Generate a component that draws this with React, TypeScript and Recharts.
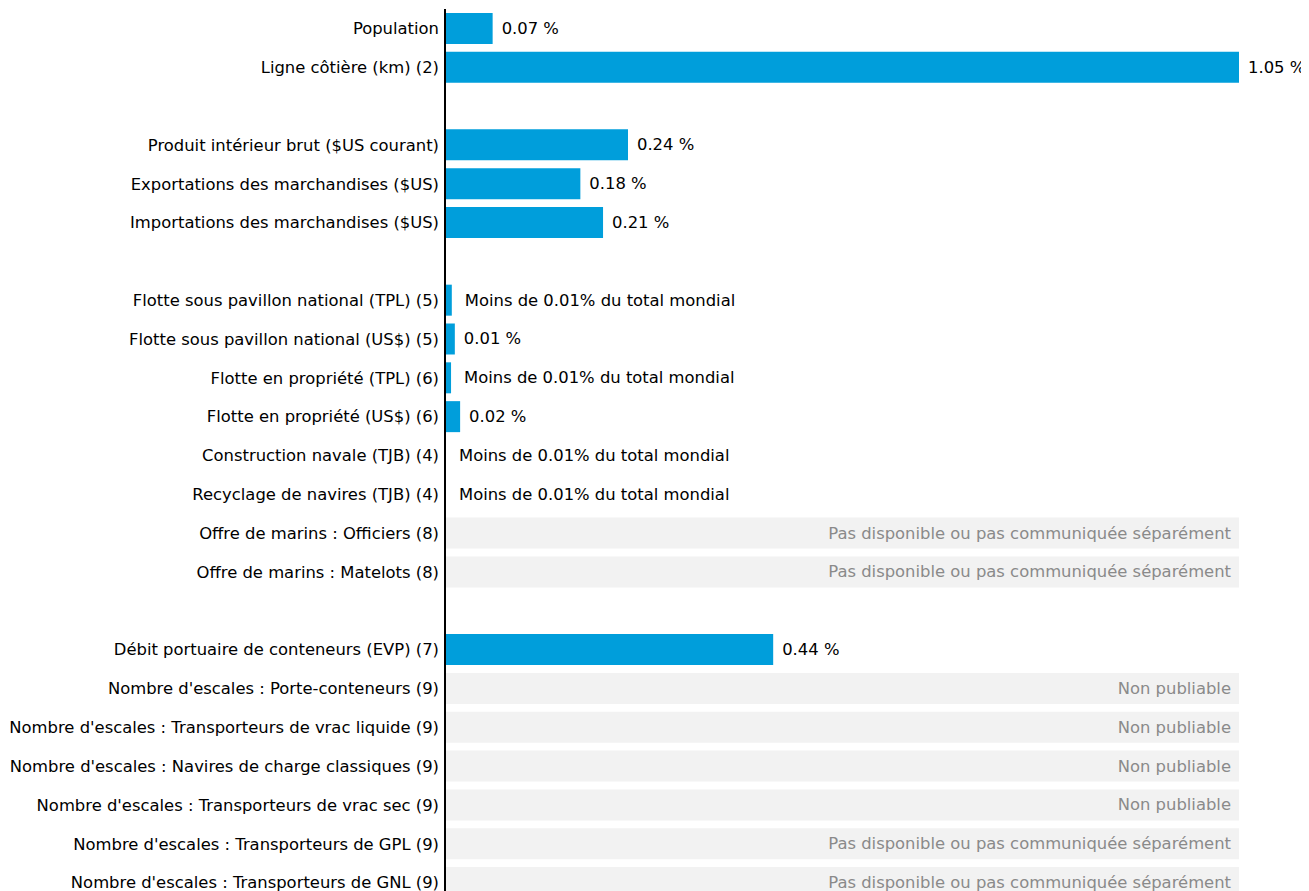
import React from "react";
import { BarChart, Bar, XAxis, YAxis, LabelList } from "recharts";

const categories = [
  "Population",
  "Ligne côtière (km) (2)",
  "",
  "Produit intérieur brut ($US courant)",
  "Exportations des marchandises ($US)",
  "Importations des marchandises ($US)",
  "",
  "Flotte sous pavillon national (TPL) (5)",
  "Flotte sous pavillon national (US$) (5)",
  "Flotte en propriété (TPL) (6)",
  "Flotte en propriété (US$) (6)",
  "Construction navale (TJB) (4)",
  "Recyclage de navires (TJB) (4)",
  "Offre de marins : Officiers (8)",
  "Offre de marins : Matelots (8)",
  "",
  "Débit portuaire de conteneurs (EVP) (7)",
  "Nombre d'escales : Porte-conteneurs (9)",
  "Nombre d'escales : Transporteurs de vrac liquide (9)",
  "Nombre d'escales : Navires de charge classiques (9)",
  "Nombre d'escales : Transporteurs de vrac sec (9)",
  "Nombre d'escales : Transporteurs de GPL (9)",
  "Nombre d'escales : Transporteurs de GNL (9)",
];

// share of world total (%), null = not available
const shareValues: (number | null)[] = [
  0.063, 1.05, null, 0.242, 0.179, 0.209, null,
  0.009, 0.013, 0.008, 0.02, 0, 0, null, null, null,
  0.434, null, null, null, null, null, null,
];

const valueLabels: string[] = [
  "0.07 %", "1.05 %", "", "0.24 %", "0.18 %", "0.21 %", "",
  "Moins de 0.01% du total mondial", "0.01 %", "Moins de 0.01% du total mondial", "0.02 %",
  "Moins de 0.01% du total mondial", "Moins de 0.01% du total mondial", "", "", "",
  "0.44 %", "", "", "", "", "", "",
];

const NA_FULL = "Pas disponible ou pas communiquée séparément";
const NA_PUB = "Non publiable";
const naLabels: string[] = [
  "", "", "", "", "", "", "", "", "", "", "", "", "",
  NA_FULL, NA_FULL, "", "", NA_PUB, NA_PUB, NA_PUB, NA_PUB, NA_FULL, NA_FULL,
];

const X_MAX = 1.05;

const data = categories.map((name, i) => ({
  id: i,
  name,
  value: shareValues[i] ?? 0,
  na: naLabels[i] ? X_MAX : 0,
  label: valueLabels[i],
  naLabel: naLabels[i],
}));

const FONT = "'DejaVu Sans', sans-serif";
const FS = 16.4;

const ValueLabel = (props: any) => {
  const { x, y, width, height, value } = props;
  const text = value as string;
  if (!text) return null;
  const isLess = text.startsWith("Moins");
  const end = x + Math.max(0, width);
  return (
    <text
      x={end + (isLess ? 13 : 9)}
      y={y + height / 2}
      dominantBaseline="central"
      fill="#000"
      fontSize={FS}
      fontFamily={FONT}
    >
      {text}
    </text>
  );
};

const NaLabel = (props: any) => {
  const { x, y, width, height, value } = props;
  const text = value as string;
  if (!text) return null;
  return (
    <text
      x={x + width - 8}
      y={y + height / 2}
      dominantBaseline="central"
      textAnchor="end"
      fill="#8a8a8a"
      fontSize={FS}
      fontFamily={FONT}
    >
      {text}
    </text>
  );
};

export default function App() {
  return (
    <div style={{ width: 1301, height: 900, fontFamily: FONT }}>
      <BarChart
        width={1301}
        height={894}
        data={data}
        layout="vertical"
        margin={{ top: 1, right: 70, bottom: 0, left: 0 }}
      >
        <XAxis type="number" domain={[0, X_MAX]} hide />
        <YAxis
          type="category"
          dataKey="id"
          width={437}
          interval={0}
          tickLine={false}
          tickSize={0}
          tickMargin={6}
          axisLine={{ stroke: "#000", strokeWidth: 2 }}
          tickFormatter={(i: number) => categories[i]}
          tick={{ fill: "#000", fontSize: FS, fontFamily: FONT }}
        />
        <Bar dataKey="value" stackId="s" fill="#009edb" minPointSize={1} isAnimationActive={false}>
          <LabelList dataKey="label" content={ValueLabel} />
        </Bar>
        <Bar dataKey="na" stackId="s" fill="#f2f2f2" isAnimationActive={false}>
          <LabelList dataKey="naLabel" content={NaLabel} />
        </Bar>
      </BarChart>
    </div>
  );
}
